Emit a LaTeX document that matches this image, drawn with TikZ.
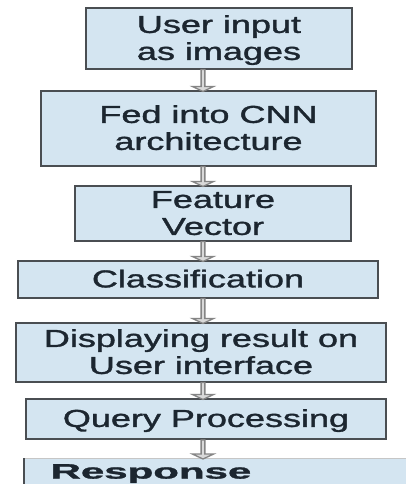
\documentclass[tikz,border=0pt]{standalone}
\usepackage{fontspec}
\setmainfont{Liberation Sans}
\newfontfamily\stagefont{Liberation Sans}[FakeBold=1.2]
\usepackage{graphicx}
\usetikzlibrary{shapes.arrows}
\definecolor{boxfill}{HTML}{D4E5F1}
\definecolor{boxline}{HTML}{4A4E52}
\definecolor{arrowgray}{HTML}{858585}
\definecolor{textdark}{HTML}{1C2630}
\newcommand{\widetext}[1]{\raisebox{-2.5pt}[\height][\depth]{\scalebox{1.47}[1]{\begin{tabular}{@{}c@{}}#1\end{tabular}}}}

\begin{document}
\begin{tikzpicture}[x=1pt,y=-1pt,
  stage/.style={draw=boxline,fill=boxfill,line width=2.2pt,inner sep=0pt,
    text=textdark,font=\stagefont\fontsize{24.5}{27}\selectfont},
  flowarrow/.style={single arrow,shape border rotate=270,draw=arrowgray,fill=gray!30,
    line width=1.3pt,inner sep=0pt,minimum width=21pt,single arrow head extend=3pt,
    single arrow tip angle=130}]
  \useasboundingbox (0,0) rectangle (406,484);
  \clip (0,0) rectangle (406,484);
  \fill[white] (0,0) rectangle (406,484);
  \coordinate (ax) at (203,0);
  \node[stage,minimum width=266pt,minimum height=61pt] (input) at (219,38.5) {\widetext{User input\\as images}};
  \node[stage,minimum width=335pt,minimum height=75pt] (cnn) at (208.5,128.5) {\widetext{Fed into CNN\\architecture}};
  \node[stage,minimum width=276pt,minimum height=55pt] (feature) at (213,213.5) {\widetext{Feature\\Vector}};
  \node[stage,minimum width=360pt,minimum height=37pt] (classify) at (198,279.5) {\widetext{Classification}};
  \node[stage,minimum width=370pt,minimum height=59pt] (display) at (201,352.5) {\widetext{Displaying result on\\User interface}};
  \node[stage,minimum width=360pt,minimum height=40pt] (query) at (206,419) {\widetext{Query Processing}};
  % last box runs past the page edge
  \node[stage,draw=gray!45,line width=1.2pt,anchor=north west,inner xsep=26pt,
    font=\stagefont\bfseries\fontsize{21}{24}\selectfont,
    text width=360pt,align=left,text height=20pt,text depth=40pt] (response) at (24,458)
    {\scalebox{2.0}[1]{Response}};
  \draw[boxline,line width=2.2pt] (response.north west) -- (response.south west);
  \foreach \a/\b/\len in {input/cnn/22,cnn/feature/20,feature/classify/20,
      classify/display/25,display/query/17,query/response/19}
    \path (\a.south -| ax) -- node[flowarrow,minimum height=\len pt] {} (\b.north -| ax);
\end{tikzpicture}
\end{document}
